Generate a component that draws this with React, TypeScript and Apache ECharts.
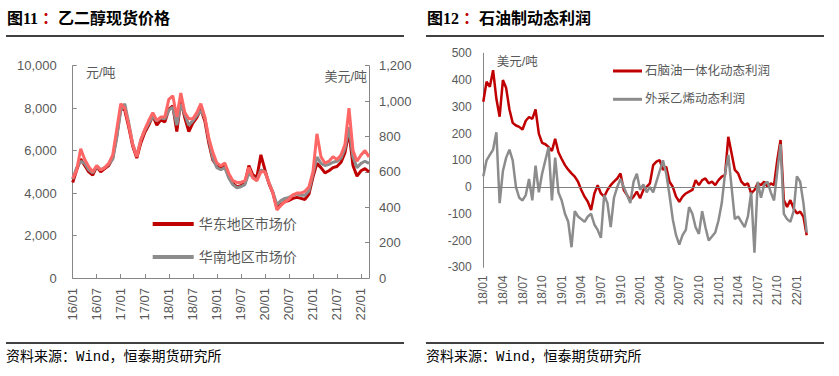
import React, { useEffect, useRef } from "react";
import * as echarts from "echarts";

// ---------- Left chart data (monthly, 2016/01 – 2022/03) ----------
const leftCategories: string[] = [];
for (let y = 16; y <= 22; y++) {
  for (let m = 1; m <= 12; m++) {
    if (y === 22 && m > 3) break;
    leftCategories.push(`${y}/${m < 10 ? "0" + m : m}`);
  }
}

const eastChinaPrice = [
  4500, 5100, 5600, 5300, 5000, 4850, 5250, 5000, 5150, 5300, 5650, 6700,
  8000, 7900, 7100, 6200, 5650, 6350, 6850, 7200, 7650, 7200, 7450, 7350,
  7950, 8100, 6900, 8350, 7550, 6900, 7300, 7550, 7950, 7400, 6350, 5550,
  5300, 5200, 5300, 4800, 4450, 4300, 4350, 4450, 5300, 4850, 4750, 5800,
  5100, 4450, 4000, 3300, 3450, 3600, 3650, 3750, 3800, 3750, 3700, 3950,
  4750, 5400, 5200, 4950, 5050, 5200, 5250, 5450, 5900, 6900, 5300, 4800,
  5050, 5150, 5000,
];

const southChinaPrice = [
  4650, 5200, 5500, 5400, 5100, 4950, 5250, 5100, 5200, 5350, 5600, 6600,
  7900, 8200, 7300, 6300, 5750, 6500, 6950, 7300, 7600, 7400, 7550, 7500,
  7900, 8050, 7200, 8200, 7700, 7200, 7400, 7650, 7900, 7550, 6500, 5650,
  5200, 5100, 5200, 4700, 4400, 4250, 4300, 4400, 4950, 4750, 4600, 5100,
  5000, 4500, 4050, 3450, 3650, 3750, 3800, 3900, 3950, 3900, 3900, 4100,
  4900, 5700, 5400, 5300, 5350, 5450, 5500, 5650, 6100, 7100, 5700, 5200,
  5400, 5500, 5400,
];

const cfrChinaUSD = [
  564, 610, 730, 670, 630, 600, 636, 610, 624, 648, 696, 840,
  985, 960, 865, 755, 685, 780, 840, 890, 935, 890, 910, 910,
  1010, 1030, 910, 1045, 935, 900, 900, 935, 985, 910, 790, 710,
  650, 635, 650, 590, 550, 540, 540, 550, 625, 565, 550, 600,
  600, 540, 480, 385, 410, 430, 445, 470, 480, 480, 490, 515,
  600, 815, 685, 650, 660, 685, 670, 695, 755, 960, 720, 660,
  695, 720, 685,
];

// ---------- Right chart data (semi-monthly, 2018/01 – 2022/02) ----------
const rightCategories: string[] = [];
for (let y = 18; y <= 22; y++) {
  for (let m = 1; m <= 12; m++) {
    if (y === 22 && m > 2) break;
    const mm = m < 10 ? "0" + m : String(m);
    rightCategories.push(`${y}/${mm}/01`);
    rightCategories.push(`${y}/${mm}/16`);
  }
}

const naphthaProfit = [
  319, 394, 375, 437, 330, 263, 400, 370, 290, 240,
  230, 225, 215, 248, 262, 255, 290, 200, 165, 160,
  150, 135, 180, 130, 105, 82, 65, 51, 39, 20,
  -11, -36, -55, -86, -24, 7, -24, -36, -11, 7,
  20, 32, 51, -11, -30, -49, -36, -17, -42, -11,
  1, 14, 82, 95, 101, 64, 76, 20, 1, -36,
  -55, -36, -24, -17, -11, 26, 7, 26, 32, 14,
  20, 7, 26, 39, 45, 188, 126, 64, 51, 20,
  7, 14, -24, -11, 14, 7, 20, 1, 14, 7,
  101, 176, -49, -74, -49, -80, -98, -92, -111, -180,
];

const ethyleneProfit = [
  40, 100, 120, 140, 205, -60, 60, 110, 140, 100,
  0, -40, -50, -30, 30, -50, 80, -20, 50, 100,
  150, -50, 110, -20, -50, -100, -130, -225, -90, -110,
  -120, -130, -110, -100, -140, -160, -190, -30, -60, -150,
  -40, 0, 30, 0, -30, -60, 20, 50, -10, 10,
  -20, 0, -20, 20, 60, 100, 50, -30, -120, -180,
  -215, -180, -160, -75, -100, -150, -175, -90, -150, -200,
  -185, -170, -125, -60, 50, 120, 0, -120, -110, -130,
  -150, -110, -20, -245, 20, -40, 10, 20, -20, -50,
  60, 160, -100, -120, -130, -90, 40, 20, -60, -170,
];

const AXIS = "#868686";
const LABEL = "#595959";
const SANS = '"Liberation Sans", "Noto Sans CJK SC", sans-serif';
const TITLE_FONT = '"Liberation Serif", "Noto Sans CJK SC", serif';
const SOURCE_FONT = '"Liberation Mono", "Noto Sans CJK SC", monospace';

const fmt = (v: number) => String(v).replace(/\B(?=(\d{3})+(?!\d))/g, ",");

function frame(title: string, num: string, x0: number, x1: number) {
  return [
    {
      type: "text",
      x: x0 + 1,
      y: 18,
      style: {
        text: `{t|图${num}}{r| ：}{t|${title}}`,
        verticalAlign: "middle",
        rich: {
          t: { fontSize: 16, fontWeight: "bold", fontFamily: TITLE_FONT, fill: "#000" },
          r: { fontSize: 16, fontWeight: "bold", fontFamily: TITLE_FONT, fill: "#C00000" },
        },
      },
    },
    { type: "line", shape: { x1: x0, y1: 36, x2: x1, y2: 36 }, style: { stroke: "#000", lineWidth: 1.3 } },
    { type: "line", shape: { x1: x0, y1: 343, x2: x1, y2: 343 }, style: { stroke: "#000", lineWidth: 1.3 } },
    {
      type: "text",
      x: x0,
      y: 357,
      style: {
        text: "资料来源：Wind，恒泰期货研究所",
        fontSize: 14,
        fontFamily: SOURCE_FONT,
        fill: "#000",
        verticalAlign: "middle",
      },
    },
  ];
}

export default function App() {
  const leftRef = useRef<HTMLDivElement>(null);
  const rightRef = useRef<HTMLDivElement>(null);

  useEffect(() => {
    const left = echarts.init(leftRef.current!, undefined, { renderer: "svg" });
    const right = echarts.init(rightRef.current!, undefined, { renderer: "svg" });

    left.setOption({
      animation: false,
      textStyle: { fontFamily: SANS },
      grid: { left: 72.7, right: 45, top: 65.7, bottom: 98, containLabel: false, outerBoundsMode: "none" },
      graphic: [
        ...frame("乙二醇现货价格", "11", 6, 404),
        { type: "text", x: 86, y: 72, style: { text: "元/吨", fontSize: 13, fontFamily: SANS, fill: LABEL, verticalAlign: "middle" } },
        { type: "text", x: 367, y: 76.5, style: { text: "美元/吨", fontSize: 13, fontFamily: SANS, fill: LABEL, align: "right", verticalAlign: "middle" } },
      ],
      legend: {
        orient: "vertical",
        left: 147.7,
        top: 212,
        itemWidth: 41,
        itemHeight: 4,
        itemGap: 19,
        data: [
          { name: "华东地区市场价", icon: "rect" },
          { name: "华南地区市场价", icon: "rect" },
        ],
        textStyle: { fontSize: 14, lineHeight: 14, color: LABEL, fontFamily: SANS },
      },
      xAxis: {
        type: "category",
        data: leftCategories,
        boundaryGap: false,
        axisLine: { lineStyle: { color: AXIS } },
        axisTick: { inside: true, length: 4, interval: 5, lineStyle: { color: AXIS } },
        axisLabel: { interval: 5, rotate: 90, margin: 10, color: LABEL, fontSize: 13, fontFamily: SANS },
      },
      yAxis: [
        {
          type: "value",
          min: 0,
          max: 10000,
          interval: 2000,
          position: "left",
          axisLine: { show: true, lineStyle: { color: AXIS } },
          axisTick: { show: true, inside: true, length: 4, lineStyle: { color: AXIS } },
          splitLine: { show: false },
          axisLabel: { margin: 16, color: LABEL, fontSize: 13, fontFamily: SANS, formatter: fmt },
        },
        {
          type: "value",
          min: 0,
          max: 1200,
          interval: 200,
          position: "right",
          axisLine: { show: true, lineStyle: { color: AXIS } },
          axisTick: { show: true, inside: true, length: 4, lineStyle: { color: AXIS } },
          splitLine: { show: false },
          axisLabel: { margin: 10, color: LABEL, fontSize: 13, fontFamily: SANS, formatter: fmt },
        },
      ],
      series: [
        {
          name: "华东地区市场价",
          type: "line",
          data: eastChinaPrice,
          yAxisIndex: 0,
          showSymbol: false,
          symbol: "none",
          color: "#C00000",
          lineStyle: { width: 3, color: "#C00000" },
        },
        {
          name: "华南地区市场价",
          type: "line",
          data: southChinaPrice,
          yAxisIndex: 0,
          showSymbol: false,
          symbol: "none",
          color: "#8C8C8C",
          lineStyle: { width: 3, color: "#8C8C8C" },
        },
        {
          name: "CFR中国",
          type: "line",
          data: cfrChinaUSD,
          yAxisIndex: 1,
          showSymbol: false,
          symbol: "none",
          color: "#FF6666",
          lineStyle: { width: 3, color: "#FF6666" },
        },
      ],
    });

    right.setOption({
      animation: false,
      textStyle: { fontFamily: SANS },
      grid: { left: 69.3, right: 32.3, top: 53.3, bottom: 108.7, containLabel: false, outerBoundsMode: "none" },
      graphic: [
        ...frame("石油制动态利润", "12", 12, 410),
        { type: "text", x: 82.7, y: 62.3, style: { text: "美元/吨", fontSize: 12.5, fontFamily: SANS, fill: LABEL, verticalAlign: "middle" } },
      ],
      legend: {
        orient: "vertical",
        left: 194,
        top: 59.5,
        itemWidth: 29,
        itemHeight: 3,
        itemGap: 15.3,
        data: [
          { name: "石脑油一体化动态利润", icon: "rect" },
          { name: "外采乙烯动态利润", icon: "rect" },
        ],
        textStyle: { fontSize: 12.5, lineHeight: 13, color: LABEL, fontFamily: SANS, padding: [0, 0, 0, -2] },
      },
      xAxis: {
        type: "category",
        data: rightCategories,
        boundaryGap: false,
        axisLine: { show: false },
        axisTick: { show: false },
        axisLabel: {
          interval: 5,
          rotate: 90,
          margin: 8,
          color: LABEL,
          fontSize: 12,
          fontFamily: SANS,
          formatter: (v: string) => v.slice(0, 5),
        },
      },
      yAxis: {
        type: "value",
        min: -300,
        max: 500,
        interval: 100,
        axisLine: { show: true, lineStyle: { color: AXIS } },
        axisTick: { show: false },
        splitLine: { show: false },
        axisLabel: { margin: 11.6, color: LABEL, fontSize: 12, fontFamily: SANS },
      },
      series: [
        {
          name: "石脑油一体化动态利润",
          type: "line",
          data: naphthaProfit,
          showSymbol: false,
          symbol: "none",
          color: "#C00000",
          lineStyle: { width: 2.5, color: "#C00000" },
          markLine: {
            silent: true,
            symbol: "none",
            label: { show: false },
            lineStyle: { color: "#808080", width: 1.2, type: "solid" },
            data: [{ yAxis: 0 }],
          },
        },
        {
          name: "外采乙烯动态利润",
          type: "line",
          data: ethyleneProfit,
          showSymbol: false,
          symbol: "none",
          color: "#8C8C8C",
          lineStyle: { width: 2.5, color: "#8C8C8C" },
        },
      ],
    });

    return () => {
      left.dispose();
      right.dispose();
    };
  }, []);

  return (
    <div style={{ position: "fixed", left: 0, top: 0, width: 839, height: 376, background: "#fff" }}>
      <div ref={leftRef} style={{ position: "absolute", left: 0, top: 0, width: 414, height: 376 }} />
      <div ref={rightRef} style={{ position: "absolute", left: 414, top: 0, width: 425, height: 376 }} />
    </div>
  );
}
